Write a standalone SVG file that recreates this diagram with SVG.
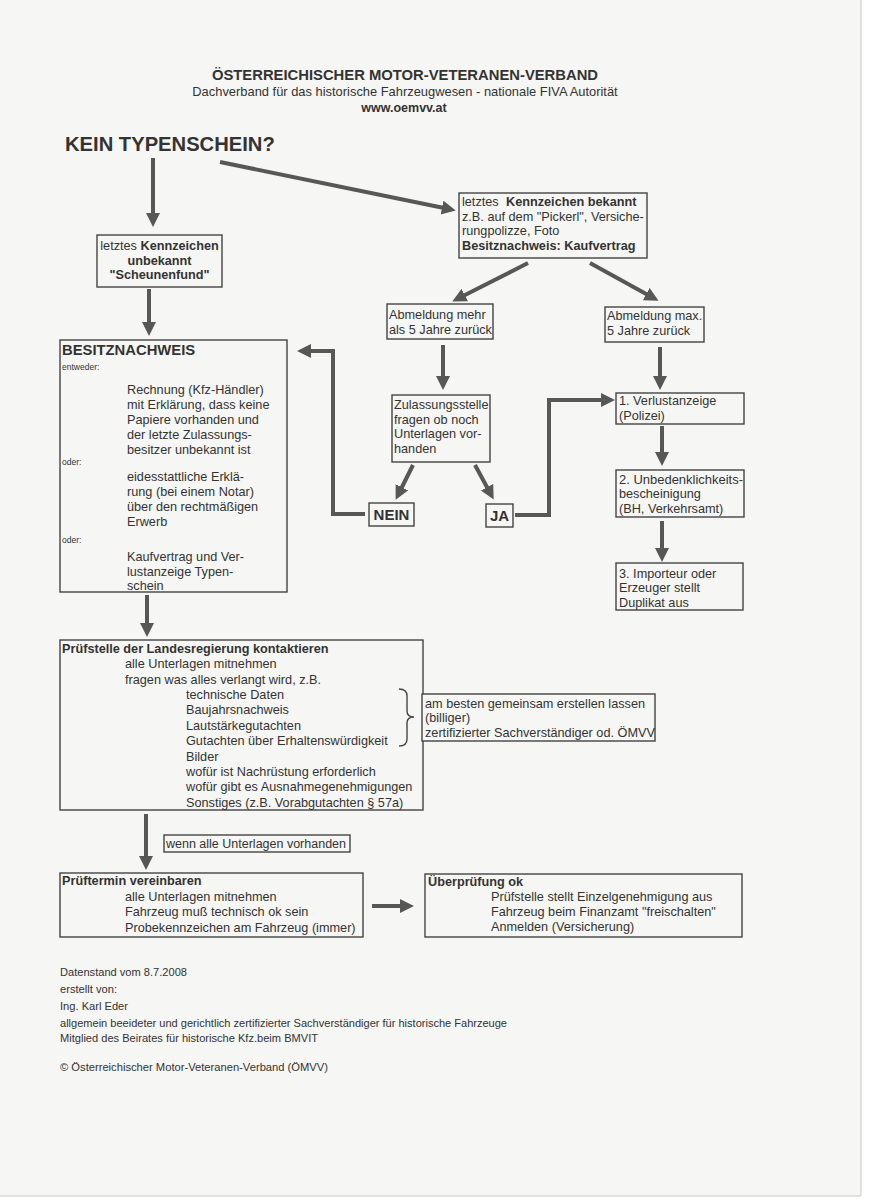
<svg xmlns="http://www.w3.org/2000/svg" width="875" height="1204" viewBox="0 0 875 1204">
<style>
text{font-family:"Liberation Sans",Arial,sans-serif;fill:#333;font-size:12.7px}
.b{font-weight:bold}
.sm{font-size:8.5px}
.ft{font-size:11px}
.c{text-anchor:middle}
.box{fill:none;stroke:#444;stroke-width:1.4}
.ar{fill:none;stroke:#575757;stroke-width:4;marker-end:url(#ah)}
</style>
<defs>
<marker id="ah" markerUnits="userSpaceOnUse" markerWidth="16" markerHeight="16" refX="2" refY="7" orient="auto"><path d="M0,0 L14,7 L0,14 z" fill="#575757"/></marker>
</defs>
<rect x="0" y="0" width="875" height="1204" fill="#ffffff"/>
<rect x="0" y="0" width="861" height="1196" fill="#f6f6f4"/>
<path d="M861,0 V1196 H0" fill="none" stroke="#c9c9c9" stroke-width="1"/>

<g id="header">
<text x="405" y="80" class="b c" style="font-size:14.8px">ÖSTERREICHISCHER MOTOR-VETERANEN-VERBAND</text>
<text x="405" y="96" class="c" style="font-size:12.9px">Dachverband für das historische Fahrzeugwesen - nationale FIVA Autorität</text>
<text x="404" y="112" class="b c" style="font-size:12.5px">www.oemvv.at</text>
</g>

<g id="start">
<text x="65" y="151" class="b" style="font-size:20.2px">KEIN TYPENSCHEIN?</text>
</g>

<g id="connectors">
<path class="ar" d="M153,158 V215"/>
<path class="ar" d="M220,162 L444,208"/>
<path class="ar" d="M149,289 V324"/>
<path class="ar" d="M528,263 L463,296"/>
<path class="ar" d="M590,263 L648,295"/>
<path class="ar" d="M443,345 V378"/>
<path class="ar" d="M660,347 V378"/>
<path class="ar" d="M413,465 L401,489"/>
<path class="ar" d="M475,465 L488,489"/>
<path class="ar" d="M365,514 H333 V351 H309"/>
<path class="ar" d="M515,515 H549 V400 H603"/>
<path class="ar" d="M662,426 V454"/>
<path class="ar" d="M662,521 V550"/>
<path class="ar" d="M147,595 V625"/>
<path class="ar" d="M146,814 V858"/>
<path class="ar" d="M372,906 H402"/>
</g>

<g id="unbekannt">
<rect class="box" x="97" y="235" width="125" height="52"/>
<text x="159.5" y="249.5" class="c">letztes <tspan class="b">Kennzeichen</tspan></text>
<text x="159.5" y="264.5" class="b c">unbekannt</text>
<text x="159.5" y="279" class="b c">"Scheunenfund"</text>
</g>

<g id="bekannt">
<rect class="box" x="459" y="193" width="188" height="65"/>
<text x="462" y="206">letztes</text>
<text x="506" y="206" class="b">Kennzeichen bekannt</text>
<text x="462" y="221">z.B. auf dem "Pickerl", Versiche-</text>
<text x="462" y="235">rungpolizze, Foto</text>
<text x="462" y="250" class="b">Besitznachweis: Kaufvertrag</text>
</g>

<g id="mehr5">
<rect class="box" x="387" y="304" width="106" height="35"/>
<text x="389" y="319">Abmeldung mehr</text>
<text x="389" y="334">als 5 Jahre zurück</text>
</g>

<g id="max5">
<rect class="box" x="605" y="307" width="99" height="35"/>
<text x="607" y="320">Abmeldung max.</text>
<text x="607" y="335">5 Jahre zurück</text>
</g>

<g id="besitznachweis">
<rect class="box" x="60" y="340" width="227" height="252"/>
<text x="62" y="355" class="b" style="font-size:14.8px">BESITZNACHWEIS</text>
<text x="62" y="370" class="sm">entweder:</text>
<text x="127" y="394">Rechnung (Kfz-Händler)</text>
<text x="127" y="409">mit Erklärung, dass keine</text>
<text x="127" y="424">Papiere vorhanden und</text>
<text x="127" y="439">der letzte Zulassungs-</text>
<text x="127" y="454">besitzer unbekannt ist</text>
<text x="62" y="465" class="sm">oder:</text>
<text x="127" y="481">eidesstattliche Erklä-</text>
<text x="127" y="496">rung (bei einem Notar)</text>
<text x="127" y="511">über den rechtmäßigen</text>
<text x="127" y="526">Erwerb</text>
<text x="62" y="543" class="sm">oder:</text>
<text x="127" y="561">Kaufvertrag und Ver-</text>
<text x="127" y="576">lustanzeige Typen-</text>
<text x="127" y="590">schein</text>
</g>

<g id="zulassungsstelle">
<rect class="box" x="392" y="395" width="98" height="67"/>
<text x="394" y="409">Zulassungsstelle</text>
<text x="394" y="424">fragen ob noch</text>
<text x="394" y="438">Unterlagen vor-</text>
<text x="394" y="453">handen</text>
</g>

<g id="nein">
<rect class="box" x="369" y="503" width="45" height="23"/>
<text x="391.5" y="520" class="b c" style="font-size:15px">NEIN</text>
</g>

<g id="ja">
<rect class="box" x="486" y="504" width="27" height="23"/>
<text x="499.5" y="521" class="b c" style="font-size:15px">JA</text>
</g>

<g id="verlustanzeige">
<rect class="box" x="616" y="393" width="128" height="31"/>
<text x="619" y="405">1. Verlustanzeige</text>
<text x="619" y="420">(Polizei)</text>
</g>

<g id="unbedenklichkeit">
<rect class="box" x="616" y="470" width="128" height="47"/>
<text x="619" y="484" textLength="124" lengthAdjust="spacingAndGlyphs">2. Unbedenklichkeits-</text>
<text x="619" y="498">bescheinigung</text>
<text x="619" y="513">(BH, Verkehrsamt)</text>
</g>

<g id="duplikat">
<rect class="box" x="616" y="563" width="127" height="47"/>
<text x="619" y="577.5">3. Importeur oder</text>
<text x="619" y="592">Erzeuger stellt</text>
<text x="619" y="606.5">Duplikat aus</text>
</g>

<g id="pruefstelle">
<rect class="box" x="60" y="640" width="363" height="170"/>
<text x="62" y="652.5" class="b">Prüfstelle der Landesregierung kontaktieren</text>
<text x="125" y="668">alle Unterlagen mitnehmen</text>
<text x="125" y="683.5">fragen was alles verlangt wird, z.B.</text>
<text x="186" y="698.5">technische Daten</text>
<text x="186" y="714">Baujahrsnachweis</text>
<text x="186" y="729.5">Lautstärkegutachten</text>
<text x="186" y="745">Gutachten über Erhaltenswürdigkeit</text>
<text x="186" y="760.5">Bilder</text>
<text x="186" y="775.5">wofür ist Nachrüstung erforderlich</text>
<text x="186" y="791">wofür gibt es Ausnahmegenehmigungen</text>
<text x="186" y="806.5">Sonstiges (z.B. Vorabgutachten § 57a)</text>
<path d="M399,689 Q407,689 407,696 V711 Q407,717 414,717 Q407,717 407,723 V739 Q407,746 399,746" fill="none" stroke="#444" stroke-width="1.4"/>
</g>

<g id="gemeinsam">
<rect class="box" x="422" y="694" width="233" height="47" style="fill:#f6f6f4"/>
<text x="425" y="707.5">am besten gemeinsam erstellen lassen</text>
<text x="425" y="722">(billiger)</text>
<text x="425" y="736.5">zertifizierter Sachverständiger od. ÖMVV</text>
</g>

<g id="wenn">
<rect class="box" x="164" y="835" width="186" height="17"/>
<text x="166" y="848" style="font-size:12.5px">wenn alle Unterlagen vorhanden</text>
</g>

<g id="prueftermin">
<rect class="box" x="60" y="873" width="303" height="64"/>
<text x="62" y="885" class="b">Prüftermin vereinbaren</text>
<text x="125" y="900.5">alle Unterlagen mitnehmen</text>
<text x="125" y="916">Fahrzeug muß technisch ok sein</text>
<text x="125" y="931.5">Probekennzeichen am Fahrzeug (immer)</text>
</g>

<g id="ueberpruefung">
<rect class="box" x="425" y="874" width="317" height="63"/>
<text x="428" y="886" class="b">Überprüfung ok</text>
<text x="491" y="901">Prüfstelle stellt Einzelgenehmigung aus</text>
<text x="491" y="916">Fahrzeug beim Finanzamt "freischalten"</text>
<text x="491" y="931">Anmelden (Versicherung)</text>
</g>

<g id="footer">
<text x="60" y="976" class="ft" textLength="127" lengthAdjust="spacingAndGlyphs">Datenstand vom 8.7.2008</text>
<text x="60" y="993" class="ft" textLength="57" lengthAdjust="spacingAndGlyphs">erstellt von:</text>
<text x="60" y="1010" class="ft" textLength="68" lengthAdjust="spacingAndGlyphs">Ing. Karl Eder</text>
<text x="60" y="1027" class="ft" textLength="447" lengthAdjust="spacingAndGlyphs">allgemein beeideter und gerichtlich zertifizierter Sachverständiger für historische Fahrzeuge</text>
<text x="60" y="1042" class="ft" textLength="258" lengthAdjust="spacingAndGlyphs">Mitglied des Beirates für historische Kfz.beim BMVIT</text>
<text x="60" y="1071" class="ft" textLength="268" lengthAdjust="spacingAndGlyphs">© Österreichischer Motor-Veteranen-Verband (ÖMVV)</text>
</g>
</svg>
